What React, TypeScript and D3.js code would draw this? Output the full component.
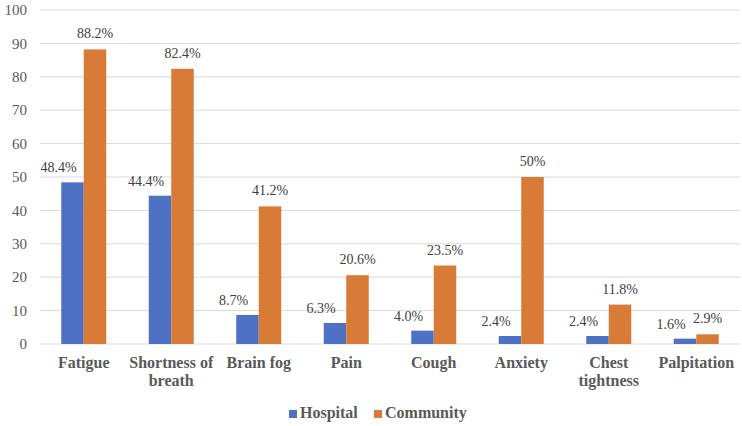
import React from "react";
import * as d3 from "d3";

const categories = [
  ["Fatigue"],
  ["Shortness of", "breath"],
  ["Brain fog"],
  ["Pain"],
  ["Cough"],
  ["Anxiety"],
  ["Chest", "tightness"],
  ["Palpitation"],
];
const hospital = [48.4, 44.4, 8.7, 6.3, 4.0, 2.4, 2.4, 1.6];
const community = [88.2, 82.4, 41.2, 20.6, 23.5, 50, 11.8, 2.9];
const hospitalLabels = ["48.4%", "44.4%", "8.7%", "6.3%", "4.0%", "2.4%", "2.4%", "1.6%"];
const communityLabels = ["88.2%", "82.4%", "41.2%", "20.6%", "23.5%", "50%", "11.8%", "2.9%"];
const yTicks = [0, 10, 20, 30, 40, 50, 60, 70, 80, 90, 100];
const seriesNames = ["Hospital", "Community"];

const W = 742;
const H = 426;
const BLUE = "#4F71C4";
const ORANGE = "#D87B37";
const FONT = "Liberation Serif, Times New Roman, Times, serif";

export default function App() {
  const x = d3
    .scaleBand<number>()
    .domain(d3.range(categories.length))
    .range([40, 740]);
  const y = d3.scaleLinear().domain([0, 100]).range([344, 10]);
  const bw = 22.5;
  const hospitalShift = -14;
  const ts = { fontFamily: FONT };

  return (
    <svg
      width={W}
      height={H}
      style={{ position: "absolute", left: 0, top: 0, background: "#fff", fontFamily: FONT }}
    >
      {yTicks.map((t) => (
        <g key={t}>
          <line x1={40} x2={740} y1={y(t)} y2={y(t)} stroke="#D9D9D9" strokeWidth={1} />
          <text style={ts} x={27} y={y(t)} dy="0.35em" textAnchor="end" fontSize={15} fill="#595959">
            {t}
          </text>
        </g>
      ))}
      {categories.map((c, i) => {
        const cx = (x(i) as number) + x.bandwidth() / 2;
        return (
          <g key={i}>
            <rect x={cx - bw} y={y(hospital[i])} width={bw} height={y(0) - y(hospital[i])} fill={BLUE} />
            <rect x={cx} y={y(community[i])} width={bw} height={y(0) - y(community[i])} fill={ORANGE} />
            <text
              style={ts}
              x={cx - bw / 2 + hospitalShift}
              y={y(hospital[i]) - 10}
              textAnchor="middle"
              fontSize={14}
              fill="#404040"
            >
              {hospitalLabels[i]}
            </text>
            <text
              style={ts}
              x={cx + bw / 2}
              y={y(community[i]) - 11}
              textAnchor="middle"
              fontSize={14}
              fill="#404040"
            >
              {communityLabels[i]}
            </text>
            {c.map((line, k) => (
              <text
                style={ts}
                key={k}
                x={cx}
                y={368 + k * 17.5}
                textAnchor="middle"
                fontSize={16}
                fontWeight="bold"
                fill="#595959"
              >
                {line}
              </text>
            ))}
          </g>
        );
      })}
      <g>
        <rect x={289} y={410} width={8} height={8} fill={BLUE} />
        <text style={ts} x={300} y={418} fontSize={16} fontWeight="bold" fill="#595959">
          {seriesNames[0]}
        </text>
        <rect x={374} y={410} width={8} height={8} fill={ORANGE} />
        <text style={ts} x={385} y={418} fontSize={16} fontWeight="bold" fill="#595959">
          {seriesNames[1]}
        </text>
      </g>
    </svg>
  );
}
